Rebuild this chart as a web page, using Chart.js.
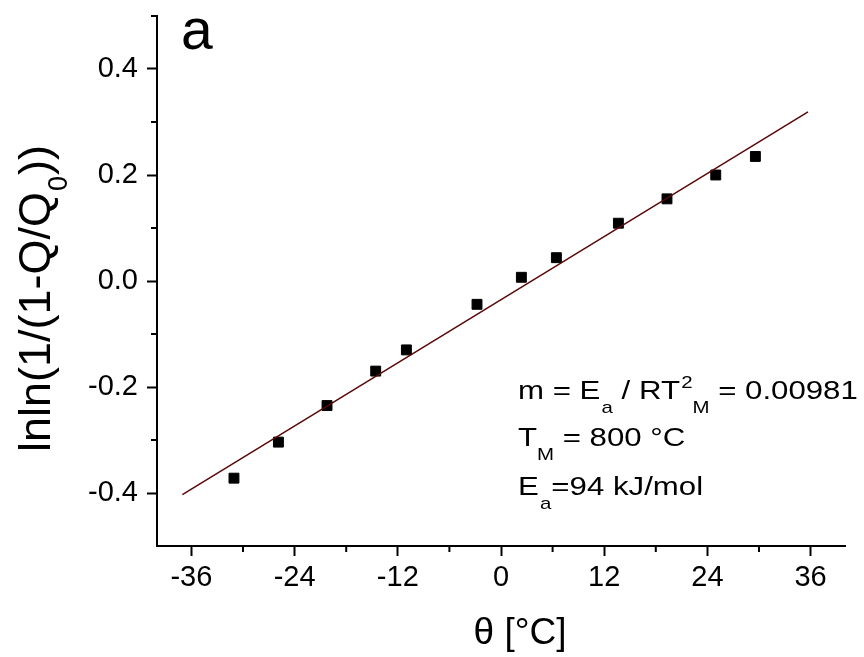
<!DOCTYPE html>
<html>
<head>
<meta charset="utf-8">
<script src="https://cdn.jsdelivr.net/npm/chart.js@4.4.0/dist/chart.umd.min.js"></script>
<style>
  html, body { margin: 0; padding: 0; background: #fff; }
</style>
</head>
<body>
<canvas id="myChart" width="864" height="657"></canvas>
<script>
// measured points
const theta = [-31.05, -25.88, -20.23, -14.57, -11.0, -2.79, 2.37, 6.44, 13.65, 19.30, 24.97, 29.58];
const lnln = [-0.372, -0.304, -0.235, -0.170, -0.130, -0.044, 0.007, 0.044, 0.109, 0.155, 0.200, 0.235];
// linear fit, drawn end to end
const fitTheta = [-37.05, 35.7];
const fitLnln = [-0.403, 0.319];

const xMajor = [-36, -24, -12, 0, 12, 24, 36];
const xMinor = [-30, -18, -6, 6, 18, 30];
const xTickLabels = ['-36', '-24', '-12', '0', '12', '24', '36'];
const yMajor = [-0.4, -0.2, 0, 0.2, 0.4];
const yMinor = [-0.3, -0.1, 0.1, 0.3, 0.5];
const yTickLabels = ['-0.4', '-0.2', '0.0', '0.2', '0.4'];

const FONT = "'Liberation Sans', Arial, sans-serif";

// text with sub/superscripts, left aligned from x on baseline y
function richText(ctx, x, y, parts, size, subSize, subOff, supOff) {
    parts.forEach(p => {
        const small = p.sub || p.sup;
        ctx.font = (small ? subSize : size) + 'px ' + FONT;
        const dy = p.sub ? subOff : (p.sup ? -supOff : 0);
        x += p.gap || 0;
        ctx.fillText(p.t, x, y + dy);
        x += ctx.measureText(p.t).width;
    });
}

const extras = {
    id: 'extras',
    afterDraw(chart) {
        const ctx = chart.ctx;
        const xs = chart.scales.x, ys = chart.scales.y;
        ctx.save();
        // minor ticks
        ctx.strokeStyle = '#000';
        ctx.lineWidth = 2;
        ctx.beginPath();
        xMinor.forEach(v => {
            const px = xs.getPixelForValue(v);
            ctx.moveTo(px, xs.top);
            ctx.lineTo(px, xs.top + 6);
        });
        yMinor.forEach(v => {
            const py = ys.getPixelForValue(v);
            ctx.moveTo(ys.right, py);
            ctx.lineTo(ys.right - 6, py);
        });
        ctx.stroke();

        ctx.fillStyle = '#000';
        ctx.textAlign = 'left';
        ctx.textBaseline = 'alphabetic';

        // panel letter
        ctx.font = '57px ' + FONT;
        ctx.fillText('a', 181, 49);

        // x title
        ctx.font = '37px ' + FONT;
        ctx.textAlign = 'center';
        ctx.fillText('\u03b8 [\u00b0C]', 520, 644);
        ctx.textAlign = 'left';

        // y title, rotated
        ctx.save();
        ctx.translate(50, 452);
        ctx.rotate(-Math.PI / 2);
        richText(ctx, 0, 0, [
            { t: 'lnln(1/(1-Q/Q' },
            { t: '0', sub: true, gap: 1 },
            { t: '))', gap: 1 }
        ], 45, 27, 17, 0);
        ctx.restore();

        // fit annotation
        ctx.save();
        ctx.translate(518, 399);
        ctx.scale(1.2, 1);
        richText(ctx, 0, 0, [
            { t: 'm = E' },
            { t: 'a', sub: true, gap: 1 },
            { t: ' / RT' },
            { t: '2', sup: true, gap: 1 },
            { t: 'M', sub: true },
            { t: ' = 0.00981' }
        ], 26, 17, 14, 11);
        richText(ctx, 0, 47, [
            { t: 'T' },
            { t: 'M', sub: true },
            { t: ' = 800 \u00b0C' }
        ], 26, 17, 14, 11);
        richText(ctx, 0, 96, [
            { t: 'E' },
            { t: 'a', sub: true, gap: 1 },
            { t: '=94 kJ/mol' }
        ], 26, 17, 14, 11);
        ctx.restore();

        ctx.restore();
    }
};

const ctx = document.getElementById('myChart').getContext('2d');
new Chart(ctx, {
    type: 'scatter',
    data: {
        datasets: [
            {
                label: 'fit',
                data: fitTheta.map((t, i) => ({ x: t, y: fitLnln[i] })),
                showLine: true,
                borderColor: '#5a0808',
                borderWidth: 1.5,
                pointRadius: 0
            },
            {
                label: 'data',
                data: theta.map((t, i) => ({ x: t, y: lnln[i] })),
                pointStyle: 'rect',
                pointRadius: 7,
                backgroundColor: '#000',
                borderColor: '#000',
                borderWidth: 1
            }
        ]
    },
    options: {
        responsive: false,
        animation: false,
        devicePixelRatio: 1,
        layout: { padding: { left: 0, top: 16, right: 19, bottom: 0 } },
        plugins: {
            legend: { display: false },
            tooltip: { enabled: false }
        },
        scales: {
            x: {
                type: 'linear',
                min: -40,
                max: 40,
                afterBuildTicks: s => { s.ticks = xMajor.map(v => ({ value: v })); },
                afterFit: s => { s.height = 111; s.paddingLeft = 0; s.paddingRight = 0; },
                ticks: {
                    callback: (v, i) => xTickLabels[i],
                    font: { family: FONT, size: 29 },
                    color: '#000',
                    padding: 5,
                    maxRotation: 0
                },
                grid: {
                    drawOnChartArea: false,
                    tickLength: 10,
                    tickWidth: 2,
                    tickColor: '#000'
                },
                border: { color: '#000', width: 2 }
            },
            y: {
                type: 'linear',
                min: -0.5,
                max: 0.5,
                afterBuildTicks: s => { s.ticks = yMajor.map(v => ({ value: v })); },
                afterFit: s => { s.width = 157; s.paddingTop = 0; s.paddingBottom = 0; },
                ticks: {
                    callback: (v, i) => yTickLabels[i],
                    font: { family: FONT, size: 29 },
                    color: '#000',
                    padding: 9
                },
                grid: {
                    drawOnChartArea: false,
                    tickLength: 10,
                    tickWidth: 2,
                    tickColor: '#000'
                },
                border: { color: '#000', width: 2 }
            }
        }
    },
    plugins: [extras]
});
</script>
</body>
</html>
